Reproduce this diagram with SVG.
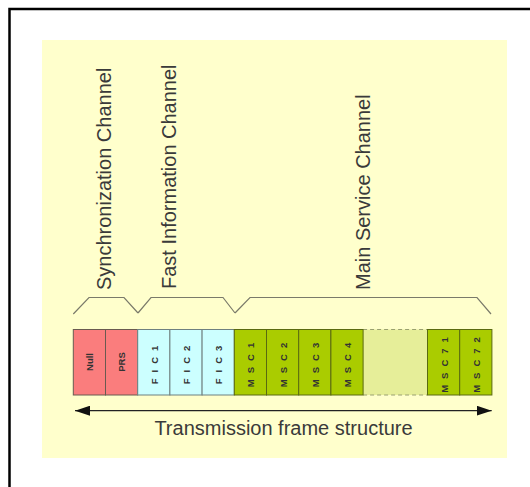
<svg xmlns="http://www.w3.org/2000/svg" width="530" height="487" viewBox="0 0 530 487">
<defs>
<style>
.lbl{font-family:"Liberation Sans",Arial,sans-serif;font-size:20px;fill:#3a3a3a}
.cl{font-family:"Liberation Sans",Arial,sans-serif;font-size:9.5px;font-weight:bold;fill:#333;text-anchor:middle;dominant-baseline:central}
.sp{letter-spacing:6px}
.red{fill:#fa7d7d;stroke:#6a5a50;stroke-width:1}
.cyan{fill:#ccffff;stroke:#6f8080;stroke-width:1}
.grn{fill:#aacc00;stroke:#5a6a10;stroke-width:1}
.brace{fill:none;stroke:#7a7a6a;stroke-width:1.2}
</style>
<marker id="ah" markerWidth="15" markerHeight="10" refX="15" refY="5" orient="auto-start-reverse" markerUnits="userSpaceOnUse">
<path d="M0,0 L15,5 L0,10 Z" fill="#111"/>
</marker>
</defs>
<rect x="0" y="0" width="530" height="487" fill="#ffffff"/>
<path d="M9.5,487 V9 H530" fill="none" stroke="#000" stroke-width="2.5"/>
<rect x="42" y="40" width="465" height="418" fill="#ffffcc"/>

<g id="labels">
<text class="lbl" transform="translate(111,290) rotate(-90)">Synchronization Channel</text>
<text class="lbl" transform="translate(176,289) rotate(-90)">Fast Information Channel</text>
<text class="lbl" transform="translate(370,290) rotate(-90)">Main Service Channel</text>
</g>

<g id="braces">
<path class="brace" d="M73.3,314 L89,297.5 L124,297.5 L138,313"/>
<path class="brace" d="M138,313 L151,297.5 L223,297.5 L235,313"/>
<path class="brace" d="M235,313 L250,297.5 L477,297.5 L491,314"/>
</g>

<g id="gap">
<rect x="363.1" y="329.5" width="64.4" height="65.5" fill="#e6ee99"/>
<path d="M363.1,329.5 H427.5 M363.1,395 H427.5" stroke="#9aa070" stroke-width="1" stroke-dasharray="4,3"/>
</g>

<g id="null"><rect class="red" x="73.3" y="329.5" width="32.2" height="65.5"/><text class="cl" transform="translate(89.6,362) rotate(-90)">Null</text></g>
<g id="prs"><rect class="red" x="105.5" y="329.5" width="32.2" height="65.5"/><text class="cl" transform="translate(121.8,362) rotate(-90)">PRS</text></g>
<g id="fic1"><rect class="cyan" x="137.7" y="329.5" width="32.2" height="65.5"/><text class="cl sp" transform="translate(154.2,362) rotate(-90)">FIC1</text></g>
<g id="fic2"><rect class="cyan" x="169.9" y="329.5" width="32.2" height="65.5"/><text class="cl sp" transform="translate(186.4,362) rotate(-90)">FIC2</text></g>
<g id="fic3"><rect class="cyan" x="202.1" y="329.5" width="32.2" height="65.5"/><text class="cl sp" transform="translate(218.6,362) rotate(-90)">FIC3</text></g>
<g id="msc1"><rect class="grn" x="234.3" y="329.5" width="32.2" height="65.5"/><text class="cl sp" transform="translate(250.8,362) rotate(-90)">MSC1</text></g>
<g id="msc2"><rect class="grn" x="266.5" y="329.5" width="32.2" height="65.5"/><text class="cl sp" transform="translate(283,362) rotate(-90)">MSC2</text></g>
<g id="msc3"><rect class="grn" x="298.7" y="329.5" width="32.2" height="65.5"/><text class="cl sp" transform="translate(315.2,362) rotate(-90)">MSC3</text></g>
<g id="msc4"><rect class="grn" x="330.9" y="329.5" width="32.2" height="65.5"/><text class="cl sp" transform="translate(347.4,362) rotate(-90)">MSC4</text></g>
<g id="msc71"><rect class="grn" x="427.5" y="329.5" width="32.2" height="65.5"/><text class="cl sp" transform="translate(444,362) rotate(-90)">MSC71</text></g>
<g id="msc72"><rect class="grn" x="459.7" y="329.5" width="32.2" height="65.5"/><text class="cl sp" transform="translate(476.2,362) rotate(-90)">MSC72</text></g>

<g id="connectors">
<line x1="75" y1="410.7" x2="491.7" y2="410.7" stroke="#222" stroke-width="1.2" marker-start="url(#ah)" marker-end="url(#ah)"/>
</g>
<g id="frame-label">
<text class="lbl" x="283.5" y="435" text-anchor="middle">Transmission frame structure</text>
</g>
</svg>
